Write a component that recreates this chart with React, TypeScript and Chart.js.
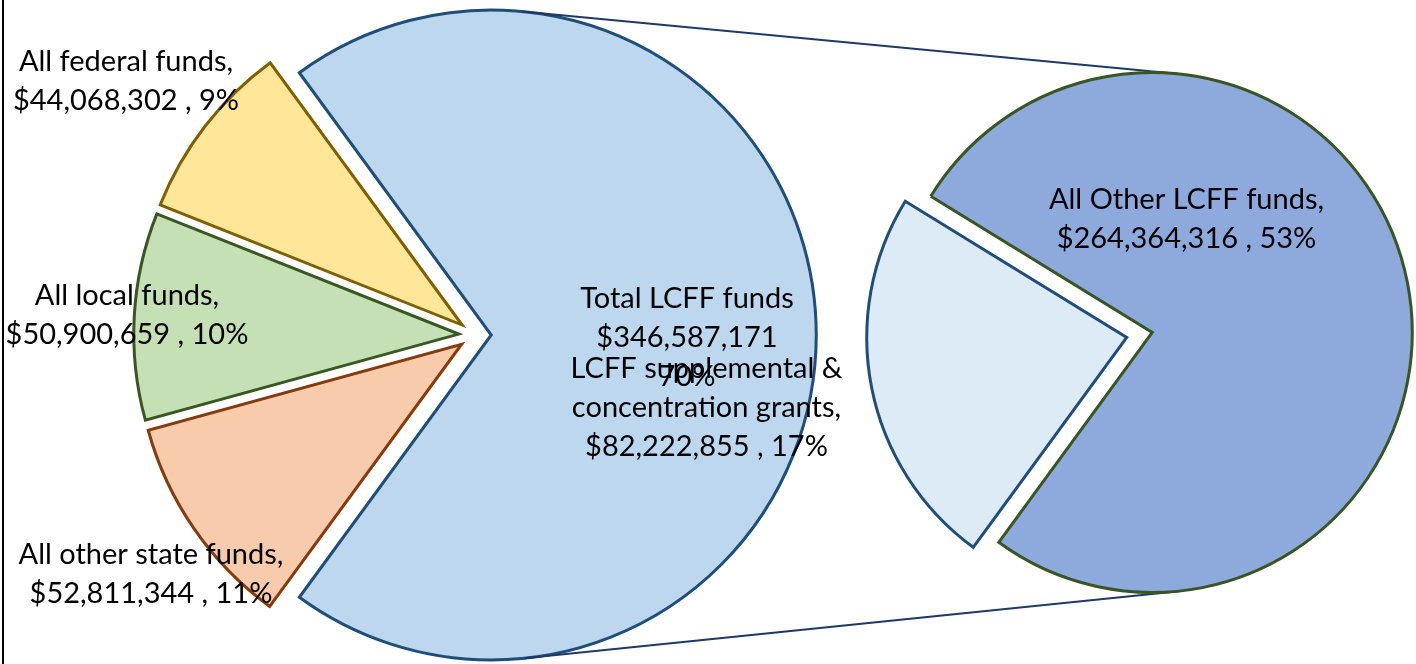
import React, { useEffect, useRef } from 'react';
import { Chart, PieController, ArcElement, registerables } from 'chart.js';

Chart.register(...registerables);

// ---------- data ----------
const mainCategories = ['All other state funds', 'All local funds', 'All federal funds', 'Total LCFF funds'];
const mainValues = [52811344, 50900659, 44068302, 346587171];
const mainPercents = [11, 10, 9, 70];

const subCategories = ['LCFF supplemental &\nconcentration grants', 'All Other LCFF funds'];
const subValues = [82222855, 264364316];
const subPercents = [17, 53];

const OTHER_INDEX = 3; // the slice of the first pie that is split into the second pie

// ---------- styles ----------
const mainColors = ['#F8CBAD', '#C5E0B4', '#FFE699', '#BDD7EE'];
const mainBorders = ['#843C0C', '#385723', '#7F6000', '#1F4E79'];
const subColors = ['#DDEBF7', '#8EA9DB'];
const subBorders = ['#1F4E79', '#375623'];
const CONNECTOR_COLOR = '#1F3864';

const W = 1416;
const H = 664;
const LEFT_R = 325;
const RIGHT_R = 260;
const EXPLODE = 0.05;
const BORDER_W = 3;
const FONT_SIZE = 29;
const FONT = `${FONT_SIZE}px Lato`;
const LINE_H = 39;

// label anchors: offsets from each pie centre (px)
const mainLabelOffsets: [number, number][] = [[-324, 238], [-348, -21], [-349, -255], [212, 2]];
const subLabelOffsets: [number, number][] = [[-433, 72], [47, -117]];

const fmt = (v: number) => v.toLocaleString('en-US');

const mainLabelLines = mainCategories.map((c, i) =>
  i === OTHER_INDEX
    ? [c, `$${fmt(mainValues[i])}`, `${mainPercents[i]}%`]
    : [`${c},`, `$${fmt(mainValues[i])} , ${mainPercents[i]}%`]
);
const subLabelLines = subCategories.map((c, i) => [
  ...`${c},`.split('\n'),
  `$${fmt(subValues[i])} , ${subPercents[i]}%`,
]);

// Excel-style "angle of first slice": the split-off group is centred on the left
const smallShare =
  mainValues.filter((_, i) => i !== OTHER_INDEX).reduce((a, b) => a + b, 0) /
  mainValues.reduce((a, b) => a + b, 0);
const ROTATION = 270 - smallShare * 180;

// ---------- exploded arc: shift slice along its mid angle without growing it ----------
class ExplodedArc extends ArcElement {
  static id = 'explodedArc';
  draw(ctx: CanvasRenderingContext2D) {
    const self: any = this;
    const opts = self.options;
    const shift = (opts && opts.offset) || 0;
    const mid = (self.startAngle + self.endAngle) / 2;
    ctx.save();
    ctx.translate(Math.cos(mid) * shift, Math.sin(mid) * shift);
    self.options = Object.assign({}, opts, { offset: 0 });
    super.draw(ctx);
    self.options = opts;
    ctx.restore();
  }
}

class ExplodedPie extends PieController {
  static id = 'explodedPie';
  static defaults = { dataElementType: 'explodedArc' };
}

Chart.register(ExplodedArc as any, ExplodedPie as any);

function explodedCenter(arc: any) {
  const mid = (arc.startAngle + arc.endAngle) / 2;
  const s = (arc.options && arc.options.offset) || 0;
  return { x: arc.x + Math.cos(mid) * s, y: arc.y + Math.sin(mid) * s };
}

function labelPlugin(id: string, lines: string[][], offsets: [number, number][]) {
  return {
    id,
    afterDatasetsDraw(chart: any) {
      const arc: any = chart.getDatasetMeta(0).data[0];
      if (!arc) return;
      const ctx = chart.ctx;
      ctx.save();
      ctx.font = FONT;
      ctx.fillStyle = '#000';
      ctx.textAlign = 'center';
      ctx.textBaseline = 'alphabetic';
      lines.forEach((ls, i) => {
        const [dx, dy] = offsets[i];
        const n = ls.length;
        ls.forEach((t, j) => {
          const y = arc.y + dy + (j - (n - 1) / 2) * LINE_H + FONT_SIZE * 0.36;
          ctx.fillText(t, arc.x + dx, y);
        });
      });
      ctx.restore();
    },
  };
}

function connectorPlugin(shared: any) {
  return {
    id: 'connectors',
    beforeDatasetsDraw(chart: any) {
      const left = shared.left;
      if (!left) return;
      const la: any = left.getDatasetMeta(0).data[OTHER_INDEX];
      const ra: any = chart.getDatasetMeta(0).data[1];
      if (!la || !ra) return;
      const c1 = explodedCenter(la);
      const c2 = explodedCenter(ra);
      const r1 = la.outerRadius;
      const r2 = ra.outerRadius;
      const dx = c2.x - c1.x;
      const dy = c2.y - c1.y;
      const D = Math.hypot(dx, dy);
      const phi = Math.atan2(dy, dx);
      const a = Math.acos((r1 - r2) / D);
      const ctx = chart.ctx;
      ctx.save();
      ctx.strokeStyle = CONNECTOR_COLOR;
      ctx.lineWidth = 2;
      for (const s of [-1, 1]) {
        const t = phi + s * a;
        ctx.beginPath();
        ctx.moveTo(c1.x + r1 * Math.cos(t), c1.y + r1 * Math.sin(t));
        ctx.lineTo(c2.x + r2 * Math.cos(t), c2.y + r2 * Math.sin(t));
        ctx.stroke();
      }
      ctx.restore();
    },
  };
}

export default function App() {
  const leftRef = useRef<HTMLCanvasElement>(null);
  const rightRef = useRef<HTMLCanvasElement>(null);

  useEffect(() => {
    const shared: any = {};
    const left = new Chart(leftRef.current as HTMLCanvasElement, {
      type: 'explodedPie' as any,
      data: {
        labels: mainCategories,
        datasets: [
          {
            data: mainValues,
            backgroundColor: mainColors,
            borderColor: mainBorders,
            borderWidth: BORDER_W,
            borderJoinStyle: 'miter',
            offset: LEFT_R * EXPLODE,
            clip: false,
          } as any,
        ],
      },
      options: {
        responsive: false,
        animation: false,
        events: [],
        rotation: ROTATION,
        radius: LEFT_R,
        layout: { padding: { left: 0, right: W - 950, top: 6, bottom: 0 } },
        plugins: { legend: { display: false }, tooltip: { enabled: false } },
      } as any,
      plugins: [labelPlugin('mainLabels', mainLabelLines, mainLabelOffsets)],
    });
    shared.left = left;

    const right = new Chart(rightRef.current as HTMLCanvasElement, {
      type: 'explodedPie' as any,
      data: {
        labels: subCategories,
        datasets: [
          {
            data: subValues,
            backgroundColor: subColors,
            borderColor: subBorders,
            borderWidth: BORDER_W,
            borderJoinStyle: 'miter',
            offset: RIGHT_R * EXPLODE,
            clip: false,
          } as any,
        ],
      },
      options: {
        responsive: false,
        animation: false,
        events: [],
        rotation: ROTATION,
        radius: RIGHT_R,
        layout: { padding: { left: 2 * 1139.5 - W, right: 0, top: 6, bottom: 0 } },
        plugins: { legend: { display: false }, tooltip: { enabled: false } },
      } as any,
      plugins: [connectorPlugin(shared), labelPlugin('subLabels', subLabelLines, subLabelOffsets)],
    });

    return () => {
      right.destroy();
      left.destroy();
    };
  }, []);

  const canvasStyle: React.CSSProperties = { position: 'absolute', left: 0, top: 0, width: W, height: H };
  return (
    <div style={{ position: 'fixed', left: 0, top: 0, width: W, height: H, background: '#fff', overflow: 'hidden' }}>
      <div style={{ position: 'absolute', left: 2, top: 0, width: 2, height: H, background: '#000' }} />
      <canvas ref={leftRef} width={W} height={H} style={canvasStyle} />
      <canvas ref={rightRef} width={W} height={H} style={canvasStyle} />
    </div>
  );
}
